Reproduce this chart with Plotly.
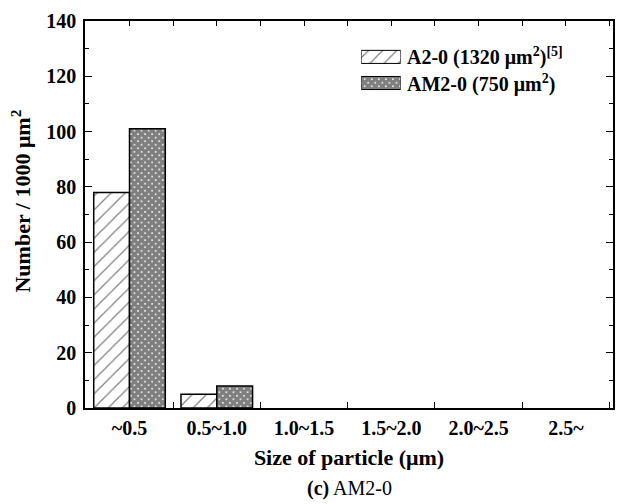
import plotly.graph_objects as go

categories = ["~0.5", "0.5~1.0", "1.0~1.5", "1.5~2.0", "2.0~2.5", "2.5~"]
a2_values = [78, 5, 0, 0, 0, 0]
am2_values = [101, 8, 0, 0, 0, 0]
series_names = ["A2-0 (1320 μm<sup>2</sup>)<sup>[5]</sup>", "AM2-0 (750 μm<sup>2</sup>)"]
top_ticks = [i * 0.5 - 0.5 for i in range(13)]

FONT = "Liberation Serif"
PAT_A = dict(shape="/", fgcolor="black", bgcolor="white", size=10, solidity=0.12)
PAT_B = dict(shape="x", fgcolor="black", bgcolor="white", size=5, solidity=0.9)

def outline(vals):
    return [1.5 if v > 0 else 0 for v in vals]

fig = go.Figure()
fig.add_trace(go.Bar(
    x=categories, y=a2_values, name=series_names[0], showlegend=False,
    marker=dict(color="white", line=dict(color="black", width=outline(a2_values)), pattern=PAT_A),
))
fig.add_trace(go.Bar(
    x=categories, y=am2_values, name=series_names[1], showlegend=False,
    marker=dict(color="white", line=dict(color="black", width=outline(am2_values)), pattern=PAT_B),
))
# invisible trace to carry the top axis ticks
fig.add_trace(go.Scatter(x=[top_ticks[0], top_ticks[-1]], y=[0, 0], xaxis="x2", mode="markers",
                         marker=dict(opacity=0), showlegend=False, hoverinfo="skip"))

# legend swatches (own small subplot)
for name, pat in zip(series_names, [PAT_A, PAT_B]):
    fig.add_trace(go.Bar(
        y=[name], x=[1], orientation="h", xaxis="x3", yaxis="y3", width=0.5, offset=-0.25,
        marker=dict(color="white", line=dict(color="black", width=1), pattern=pat),
        showlegend=False, hoverinfo="skip",
    ))

fig.update_layout(
    width=618, height=504,
    margin=dict(l=85, r=3, t=21, b=96),
    paper_bgcolor="white", plot_bgcolor="white",
    barmode="group", bargap=0.18, bargroupgap=0,
    font=dict(family=FONT, size=20, color="black"),
    showlegend=False,
    xaxis=dict(type="category", range=[-0.51, 5.54], showline=True, linecolor="black", linewidth=1.5,
               mirror=True, ticks="inside", tickson="boundaries", ticklen=6, tickcolor="black",
               ticklabelstandoff=1,
               tickfont=dict(family=FONT, size=20, weight="bold"),
               title=dict(text="Size of particle (μm)", font=dict(family=FONT, size=22, weight="bold"), standoff=12),
               showgrid=False, zeroline=False),
    xaxis2=dict(overlaying="x", side="top", range=[-0.51, 5.54], tickvals=top_ticks, showticklabels=False,
                ticks="inside", ticklen=5, tickcolor="black", showline=False, showgrid=False, zeroline=False),
    yaxis=dict(range=[0, 140], dtick=20, showline=True, linecolor="black", linewidth=1.5, mirror="ticks",
               ticks="inside", ticklen=7, tickcolor="black", ticklabelstandoff=3,
               minor=dict(dtick=10, ticks="inside", ticklen=4, tickcolor="black"),
               tickfont=dict(family=FONT, size=20, weight="bold"),
               showgrid=False, zeroline=False),
    xaxis3=dict(domain=[0.523, 0.598], range=[0, 1], visible=False, fixedrange=True),
    yaxis3=dict(domain=[0.806, 0.941], anchor="x3", type="category", categoryorder="array",
                categoryarray=series_names[::-1], range=[-0.5, 1.5], visible=False, fixedrange=True),
    annotations=[
        dict(text="<b>(c)</b> AM2-0", xref="paper", yref="paper", x=0.5, y=-0.207,
             xanchor="center", yanchor="middle", showarrow=False,
             font=dict(family=FONT, size=20, color="black")),
        dict(text="<b>Number / 1000 μm<sup>2</sup></b>", xref="paper", yref="paper", x=-0.122, y=0.535,
             xanchor="center", yanchor="middle", textangle=-90, showarrow=False,
             font=dict(family=FONT, size=22, color="black")),
    ] + [
        dict(text=n, xref="x3 domain", yref="y3", x=1.1, y=n, xanchor="left", yanchor="middle",
             showarrow=False, font=dict(family=FONT, size=20, color="black", weight="bold"))
        for n in series_names
    ],
)

fig.write_html("out.html")
